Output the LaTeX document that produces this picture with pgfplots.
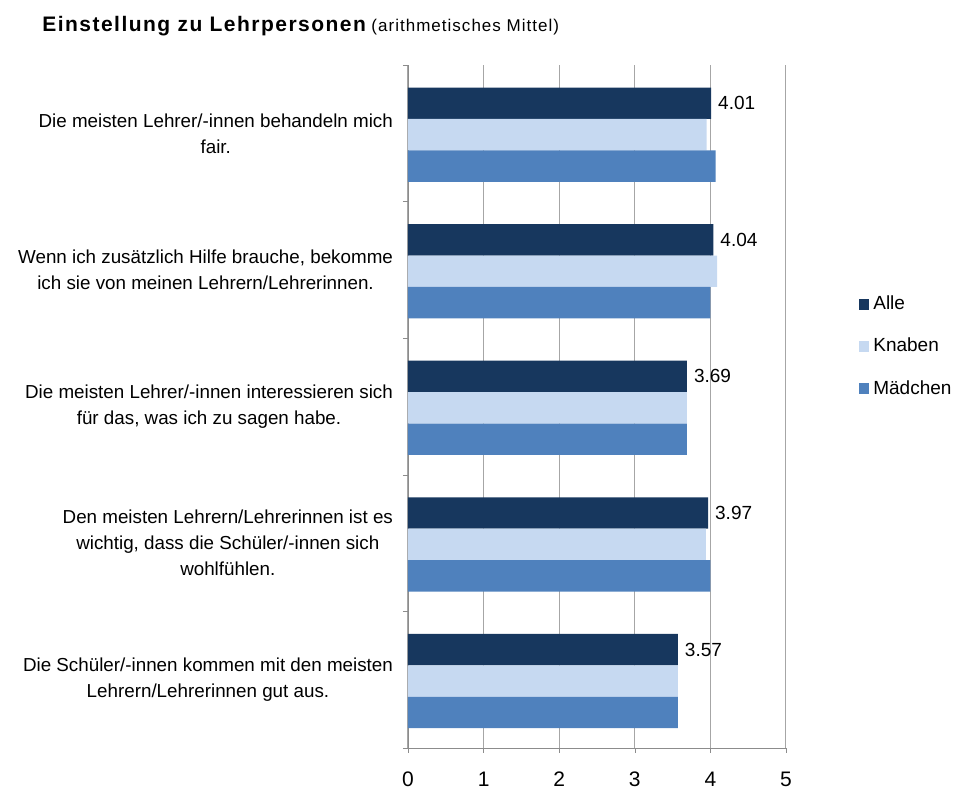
\documentclass[border=0pt]{standalone}
\usepackage{pgfplots}
\pgfplotsset{compat=1.18}
\usepackage{fontspec}
\setmainfont{Liberation Sans}
\definecolor{alle}{HTML}{17375E}
\definecolor{knaben}{HTML}{C6D9F1}
\definecolor{maedchen}{HTML}{4F81BD}
\definecolor{gridgray}{HTML}{A6A6A6}
\definecolor{axisgray}{HTML}{8C8C8C}

\begin{document}
\begin{tikzpicture}
\path[use as bounding box] (-204pt,-21pt) rectangle (276pt,374pt);
\begin{axis}[
    scale only axis,
    width=189pt, height=341.5pt,
    xbar, bar width=0.23, bar shift=0pt,
    xmin=0, xmax=5, ymin=-0.5, ymax=4.5,
    axis x line=bottom, axis y line=left,
    axis line style={axisgray, -},
    tick align=outside,
    xtick={0,...,5},
    major tick length=2.5pt, minor tick length=2.5pt,
    xtick style={axisgray},
    xmajorgrids, grid style={gridgray, line width=0.5pt},
    ytick={0,...,4},
    yticklabels={
        {Die Schüler/-innen kommen mit den meisten\\Lehrern/Lehrerinnen gut aus.},
        {Den meisten Lehrern/Lehrerinnen ist es\\wichtig, dass die Schüler/-innen sich\\wohlfühlen.},
        {Die meisten Lehrer/-innen interessieren sich\\für das, was ich zu sagen habe.},
        {Wenn ich zusätzlich Hilfe brauche, bekomme\\ich sie von meinen Lehrern/Lehrerinnen.},
        {Die meisten Lehrer/-innen behandeln mich\\fair.}},
    minor ytick={-0.5,0.5,...,4.5},
    major y tick style={draw=none},
    minor y tick style={axisgray},
    yticklabel style={align=center, font=\fontsize{9.4}{13}\selectfont, xshift=-1.5pt},
    xticklabel style={font=\fontsize{10.5}{12}\selectfont, yshift=-6pt},
    /pgf/number format/assume math mode=true,
    legend style={at={(1.175,0.588)}, anchor=west, draw=none, fill=none,
        font=\fontsize{9.5}{11}\selectfont, row sep=8.75pt, legend cell align=left},
    legend image code/.code={\fill[#1] (0pt,-2.7pt) rectangle (5.4pt,2.7pt);},
]
\addplot[draw=none, fill=alle,
    nodes near coords={\pgfmathprintnumber[fixed,fixed zerofill,precision=2,assume math mode=true]{\pgfplotspointmeta}},
    nodes near coords style={anchor=west, font=\fontsize{9.5}{11}\selectfont, black},
    point meta=x] coordinates {
    (3.57,0.22) (3.97,1.22) (3.69,2.22) (4.04,3.22) (4.01,4.22)
};
\addlegendentry{Alle}
\addplot[draw=none, fill=knaben] coordinates {
    (3.57,-0.01) (3.94,0.99) (3.69,1.99) (4.09,2.99) (3.95,3.99)
};
\addlegendentry{Knaben}
\addplot[draw=none, fill=maedchen] coordinates {
    (3.57,-0.24) (4.00,0.76) (3.69,1.76) (4.00,2.76) (4.07,3.76)
};
\addlegendentry{Mädchen}
\end{axis}
\node[anchor=base west, inner sep=0pt] at (-183pt,358pt)
    {{\bfseries\fontsize{10.5}{12}\selectfont\addfontfeature{LetterSpace=7}Einstellung zu Lehrpersonen}
     {\fontsize{8.5}{10}\selectfont\addfontfeature{LetterSpace=6}(arithmetisches Mittel)}};
\end{tikzpicture}
\end{document}
